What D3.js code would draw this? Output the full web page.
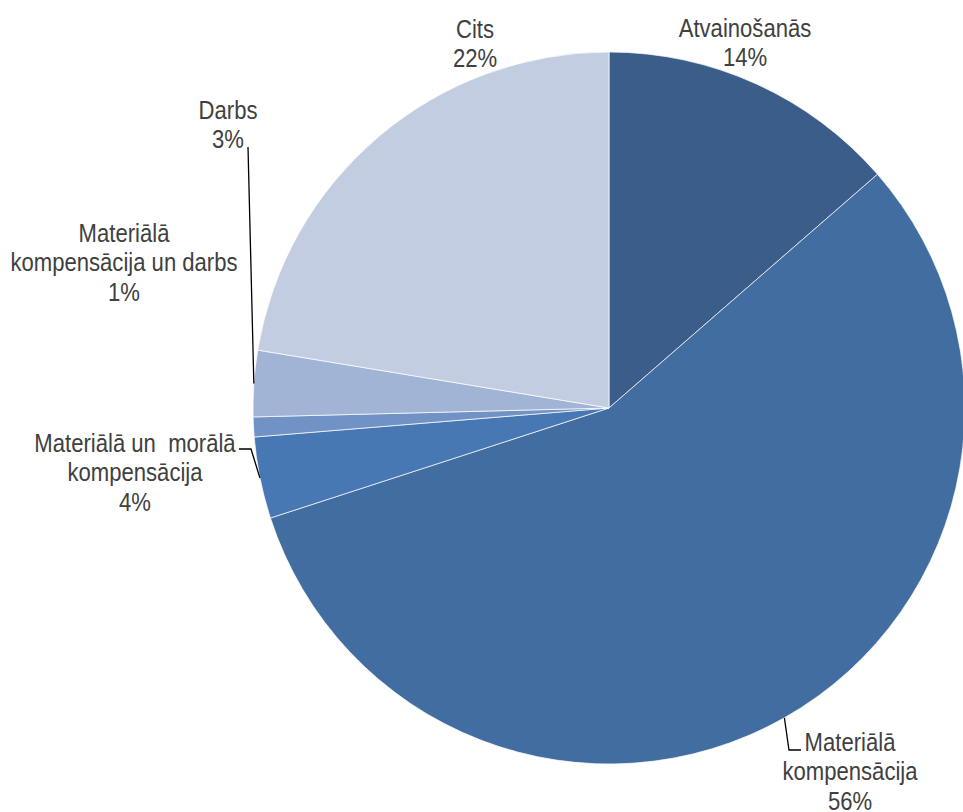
<!DOCTYPE html>
<html>
<head>
<meta charset="utf-8">
<script src="https://cdn.jsdelivr.net/npm/d3@7"></script>
<style>
body { margin: 0; background: #fff; }
</style>
</head>
<body>
<svg id="chart" width="963" height="812"></svg>
<script>
var categories = ['Atvainošanās', 'Materiālā kompensācija', 'Materiālā un  morālā kompensācija',
    'Materiālā kompensācija un darbs', 'Darbs', 'Cits'];
var values = [13.6, 56.4, 3.7, 0.9, 3.0, 22.4];
var percentLabels = ['14%', '56%', '4%', '1%', '3%', '22%'];
var labelLines = [
    ['Atvainošanās'],
    ['Materiālā', 'kompensācija'],
    ['Materiālā un  morālā', 'kompensācija'],
    ['Materiālā', 'kompensācija un darbs'],
    ['Darbs'],
    ['Cits']
];
var colors = ['#3A5D8A', '#426DA1', '#4878B3', '#7092C5', '#A2B4D6', '#C2CDE2'];

// label placement (centre x, first baseline) and leader knees, in page px
var labelPos = [[745, 37], [850, 751], [135, 452], [124, 242], [228, 119], [475, 38]];
var leaderKnees = [null, [[789, 750], [801, 750]], [[251, 449], [239, 449]], null, [[248, 147]], null];

var svg = d3.select('#chart'),
    cx = 609,
    cy = 408,
    radius = 356,
    lineH = 29.5,
    squeeze = 0.85; // narrow-font look

var pie = d3.pie().sort(null).value(function(d) { return d; });
var arcs = pie(values);
var arc = d3.arc().innerRadius(0).outerRadius(radius);

var g = svg.append('g').attr('transform', 'translate(' + cx + ',' + cy + ')');

g.selectAll('path')
    .data(arcs)
    .enter().append('path')
    .attr('d', arc)
    .attr('fill', function(d, i) { return colors[i]; })
    .attr('stroke', '#fff')
    .attr('stroke-width', 0.7);

// leader lines
arcs.forEach(function(d, i) {
    if (!leaderKnees[i]) return;
    var mid = (d.startAngle + d.endAngle) / 2;
    var p = d3.pointRadial(mid, radius);
    var pts = [[p[0] + cx, p[1] + cy]].concat(leaderKnees[i]);
    svg.append('path')
        .attr('d', d3.line()(pts))
        .attr('fill', 'none')
        .attr('stroke', '#000')
        .attr('stroke-width', 1.3);
});

// labels
var labels = svg.append('g')
    .attr('font-family', '"Liberation Sans Narrow", "Arial Narrow", "Liberation Sans", Arial, sans-serif')
    .attr('font-size', 26)
    .attr('fill', '#404040')
    .attr('text-anchor', 'middle');

categories.forEach(function(c, i) {
    var lines = labelLines[i].concat([percentLabels[i]]);
    var t = labels.append('text')
        .attr('transform', 'translate(' + labelPos[i][0] + ',' + labelPos[i][1] + ') scale(' + squeeze + ',1)')
        .style('white-space', 'pre');
    lines.forEach(function(l, j) {
        t.append('tspan')
            .attr('x', 0)
            .attr('dy', j === 0 ? 0 : lineH)
            .text(l);
    });
});
</script>
</body>
</html>
